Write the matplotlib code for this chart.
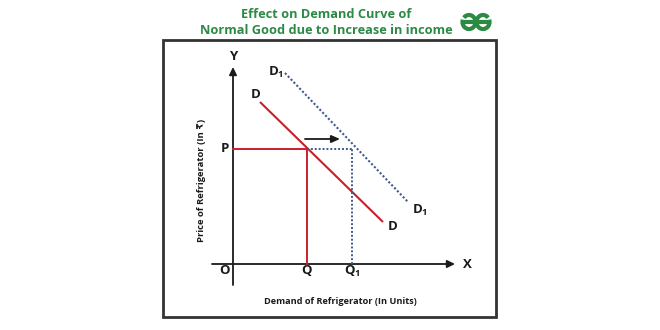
import matplotlib
matplotlib.use("Agg")
import matplotlib.pyplot as plt
from matplotlib.patches import Rectangle, Arc, FancyArrowPatch

plt.rcParams['font.family'] = ['Open Sans', 'DejaVu Sans']

# Schematic values (origin O at 0, 0)
price_p = 11.5          # price level P
qty_q = 7.4             # quantity demanded on D at P
qty_q1 = 11.9           # quantity demanded on D1 at P
demand_d_x = [2.7, 15.0]
demand_d_y = [16.2, 4.2]
demand_d1_x = [5.2, 17.5]
demand_d1_y = [19.1, 6.2]
shift_arrow_x = [7.2, 10.7]
shift_arrow_y = 12.5

title_lines = ["Effect on Demand Curve of", "Normal Good due to Increase in income"]
x_label = "Demand of Refrigerator (In Units)"
y_label = "Price of Refrigerator (In ₹)"

green = "#2b8a44"
red = "#c8202a"
navy = "#3e5a8c"
dark = "#1a1a1a"

fig = plt.figure(figsize=(6.6, 3.3), dpi=100)
ax = fig.add_axes([0, 0, 1, 1])
ax.set_xlim(-23.3, 42.7)
ax.set_ylim(-6.6, 26.4)
ax.axis("off")

# frame
ax.add_patch(Rectangle((-7.0, -5.3), 33.3, 27.7, fill=False, lw=2, ec="#333333"))

# axes with arrows
arrow_style = "-|>,head_length=4.5,head_width=2.2"
ax.add_patch(FancyArrowPatch((0, -2.1), (0, 19.7), arrowstyle=arrow_style,
                             lw=1.3, color=dark, shrinkA=0, shrinkB=0))
ax.add_patch(FancyArrowPatch((-2.1, 0), (22.2, 0), arrowstyle=arrow_style,
                             lw=1.3, color=dark, shrinkA=0, shrinkB=0))

# demand curves
ax.plot(demand_d_x, demand_d_y, color=red, lw=1.5, solid_capstyle="butt")
ax.plot(demand_d1_x, demand_d1_y, color=navy, lw=1.5, ls=(0, (1, 1)))

# price and quantity guides
ax.plot([0, qty_q], [price_p, price_p], color=red, lw=1.4)
ax.plot([qty_q, qty_q], [0, price_p], color=red, lw=1.4)
ax.plot([qty_q, qty_q1], [price_p, price_p], color=navy, lw=1.4, ls=(0, (1, 1)))
ax.plot([qty_q1, qty_q1], [0, price_p], color=navy, lw=1.4, ls=(0, (1, 1)))

# shift arrow
ax.add_patch(FancyArrowPatch((shift_arrow_x[0], shift_arrow_y), (shift_arrow_x[1], shift_arrow_y),
                             arrowstyle="-|>,head_length=5,head_width=2.2",
                             lw=1.3, color=dark, shrinkA=0, shrinkB=0))

lab = dict(fontsize=9.5, fontweight="bold", color=dark, ha="center", va="center")
ax.text(0, 20.7, "Y", **lab)
ax.text(23.4, 0, "X", **lab)
ax.text(-0.9, -0.6, "O", **lab)
ax.text(-0.8, price_p, "P", **lab)
ax.text(qty_q, -0.7, "Q", **lab)
ax.text(qty_q1, -0.7, "Q$_\\mathregular{1}$", **lab)
ax.text(2.3, 16.9, "D", **lab)
ax.text(16.0, 3.8, "D", **lab)
ax.text(4.3, 19.2, "D$_\\mathregular{1}$", **lab)
ax.text(18.7, 5.4, "D$_\\mathregular{1}$", **lab)

ax.text(10.7, -3.7, x_label, fontsize=6.6, fontweight="bold", color=dark, ha="center", va="center")
ax.text(-3.2, 8.4, y_label, fontsize=6.8, fontweight="bold", color=dark, ha="center", va="center",
        rotation=90)

# title
fig.text(326 / 660, 1 - 15 / 330, title_lines[0], fontsize=9.2, fontweight="bold", color=green,
         ha="center", va="center")
fig.text(326 / 660, 1 - 30 / 330, title_lines[1], fontsize=9.2, fontweight="bold", color=green,
         ha="center", va="center")

# logo
lax = fig.add_axes([457 / 660, 1 - 32 / 330, 38 / 660, 20 / 330])
lax.set_xlim(0, 38)
lax.set_ylim(0, 20)
lax.set_aspect("equal")
lax.axis("off")
lax.add_patch(Arc((12, 10), 13, 14, theta1=-200, theta2=140, lw=3.0, color=green))
lax.add_patch(Arc((26, 10), 13, 14, theta1=40, theta2=380, lw=3.0, color=green))
lax.plot([5.5, 32.5], [10, 10], color=green, lw=3.0)

fig.savefig("out.png", dpi=100)
